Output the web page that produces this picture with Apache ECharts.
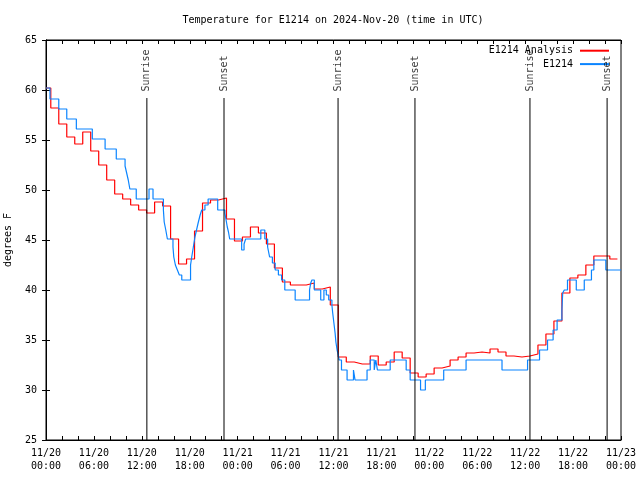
<!DOCTYPE html>
<html><head><meta charset="utf-8">
<script src="https://cdn.jsdelivr.net/npm/echarts@6/dist/echarts.min.js"></script>
<style>html,body{margin:0;padding:0;background:#fff}#c{width:640px;height:480px}</style>
</head><body><div id="c"></div>
<script>
// Analysis (hourly, value held from hour-0.4 to hour+0.6)
const redValues = [60.2,58.2,56.6,55.3,54.6,55.8,53.9,52.5,51.0,49.6,49.1,48.5,48.0,47.7,48.8,48.4,
  45.1,42.6,43.1,45.9,48.7,49.0,49.2,47.1,44.9,45.3,46.3,45.7,44.6,42.2,40.8,40.5,40.5,40.7,40.1,40.3,
  38.5,33.3,32.8,32.6,32.6,33.4,32.5,32.8,33.8,33.2,31.7,31.3,31.6,32.2,32.4,33.0,33.3,33.7,33.8,33.7,
  34.1,33.8,33.4,33.3,33.4,33.6,34.5,35.6,36.9,39.7,41.2,41.5,42.5,43.4,43.4,43.1];
const redEndHour = 71.55;
// Observations: hours since 11/20 00:00 UTC where value changes
const blueHours = [0,0.5,1.6,2.6,3.8,5.8,7.4,8.8,9.9,10.1,10.3,10.5,11.3,12.9,13.4,14.7,14.8,15.0,15.2,
  15.9,16.0,16.2,16.45,16.7,17.0,18.1,18.25,18.45,18.65,18.85,19.05,19.3,19.5,19.9,20.3,21.5,22.4,22.55,
  22.7,22.85,23.0,24.5,24.8,25.0,26.9,27.4,27.75,28.0,28.35,28.7,29.1,29.5,29.9,31.2,33.0,33.15,33.3,
  33.6,34.4,34.8,35.1,35.4,35.8,35.9,36.05,36.2,36.3,36.45,36.6,36.7,37.0,37.7,38.5,38.7,40.2,40.6,
  41.1,41.3,41.5,43.1,45.1,45.6,46.9,47.5,49.8,52.6,57.1,60.3,61.8,62.8,63.5,64.0,64.6,64.7,64.9,65.3,
  66.4,67.4,68.3,68.6,70.1,72.0];
const blueValues = [60.2,59.1,58.1,57.1,56.1,55.1,54.1,53.1,52.4,51.7,51.0,50.1,49.1,50.1,49.1,48.0,46.8,46.0,45.1,
  44.3,43.3,42.5,42.0,41.5,41.0,42.5,43.3,44.3,45.3,46.0,46.7,47.5,48.0,48.5,49.1,48.0,47.7,47.0,
  46.3,45.8,45.1,44.0,44.6,45.1,46.0,45.1,44.3,43.3,42.7,42.0,41.5,41.0,40.0,39.0,40.0,40.7,41.0,
  40.0,39.0,40.0,39.5,39.0,38.5,37.7,36.7,35.7,34.8,34.0,33.5,33.0,32.0,31.0,32.0,31.0,32.0,33.0,
  32.0,33.0,32.0,33.0,32.0,31.0,30.0,31.0,32.0,33.0,32.0,33.0,34.0,35.0,36.0,37.0,38.0,39.7,40.0,41.0,
  40.0,41.0,42.0,43.0,42.0,42.0];
const sunHours = [12.63, 22.29, 36.57, 46.2, 60.6, 70.26];
const sunLabels = ['Sunrise','Sunset','Sunrise','Sunset','Sunrise','Sunset'];
const yTicks = {min:25, max:65, step:5};
const titleText = 'Temperature for E1214 on 2024-Nov-20 (time in UTC)';
const yName = 'degrees F';
const seriesNames = ['E1214 Analysis','E1214'];

const FONT = 'DejaVu Sans Mono';
const redData = redValues.map((v,i)=>[i===0?0:i-0.4, v]);
redData.push([redEndHour, redValues[redValues.length-1]]);
const blueData = blueHours.map((h,i)=>[h, blueValues[i]]);

function xfmt(v){
  if (v % 6 !== 0) return '';
  const day = 20 + Math.floor(v/24);
  const hr = v % 24;
  return '11/' + day + '\n' + (hr<10?'0':'') + hr + ':00';
}
const tickStyle = {inside:true, length:4, lineStyle:{color:'#000', width:1}};
const lineAx = {show:true, lineStyle:{color:'#000', width:1}};
const clear = 'rgba(0,0,0,0)';

const series = [
  {name:seriesNames[0], type:'line', step:'end', symbol:'none', data:redData, z:2,
   lineStyle:{color:'#ff0000', width:1.2}, itemStyle:{color:clear}},
  {name:seriesNames[1], type:'line', step:'end', symbol:'none', data:blueData, z:3,
   lineStyle:{color:'#0a84ff', width:1.2}, itemStyle:{color:clear}}
];
sunHours.forEach((h,i)=>{
  series.push({type:'line', symbol:'none', data:[[h,25],[h,59.2]], z:4,
    lineStyle:{color:'#000', width:1}, silent:true});
  series.push({type:'scatter', data:[[h,59.2,sunLabels[i]]], symbolSize:1, z:5,
    itemStyle:{color:clear}, silent:true,
    label:{show:true, formatter:p=>p.value[2], position:'top', distance:6, rotate:90,
      align:'left', verticalAlign:'middle', fontFamily:FONT, fontSize:10, color:'#000'}});
});

const chart = echarts.init(document.getElementById('c'), null, {renderer:'canvas'});
chart.setOption({
  animation:false,
  backgroundColor:'#fff',
  grid:{left:46, right:19, top:40, bottom:40, containLabel:false, outerBoundsMode:'none',
    show:true, borderColor:'#000', borderWidth:1},
  graphic:[{type:'text', x:333, y:20, style:{text:titleText, align:'center', verticalAlign:'middle',
    font:'10px "DejaVu Sans Mono"', fill:'#000'}}],
  legend:{data:seriesNames, orient:'vertical', align:'right', right:30, top:45.5, padding:0,
    itemWidth:29, itemHeight:13, itemGap:3,
    itemStyle:{color:clear, borderWidth:0, opacity:0},
    textStyle:{fontFamily:FONT, fontSize:10, color:'#000', padding:[0,2,0,0]}},
  xAxis:[
    {type:'value', min:0, max:72, interval:2, position:'bottom',
     axisLine:lineAx, axisTick:tickStyle, splitLine:{show:false},
     axisLabel:{formatter:xfmt, fontFamily:FONT, fontSize:10, color:'#000', margin:7, lineHeight:13}},
    {type:'value', min:0, max:72, interval:2, position:'top',
     axisLine:lineAx, axisTick:tickStyle, splitLine:{show:false}, axisLabel:{show:false}}
  ],
  yAxis:[
    {type:'value', min:yTicks.min, max:yTicks.max, interval:yTicks.step, position:'left',
     name:yName, nameLocation:'middle', nameGap:33,
     nameTextStyle:{fontFamily:FONT, fontSize:10, color:'#000'},
     axisLine:lineAx, axisTick:tickStyle, splitLine:{show:false},
     axisLabel:{fontFamily:FONT, fontSize:10, color:'#000', margin:9}},
    {type:'value', min:yTicks.min, max:yTicks.max, interval:yTicks.step, position:'right',
     axisLine:lineAx, axisTick:tickStyle, splitLine:{show:false}, axisLabel:{show:false}}
  ],
  series:series
});
</script></body></html>
